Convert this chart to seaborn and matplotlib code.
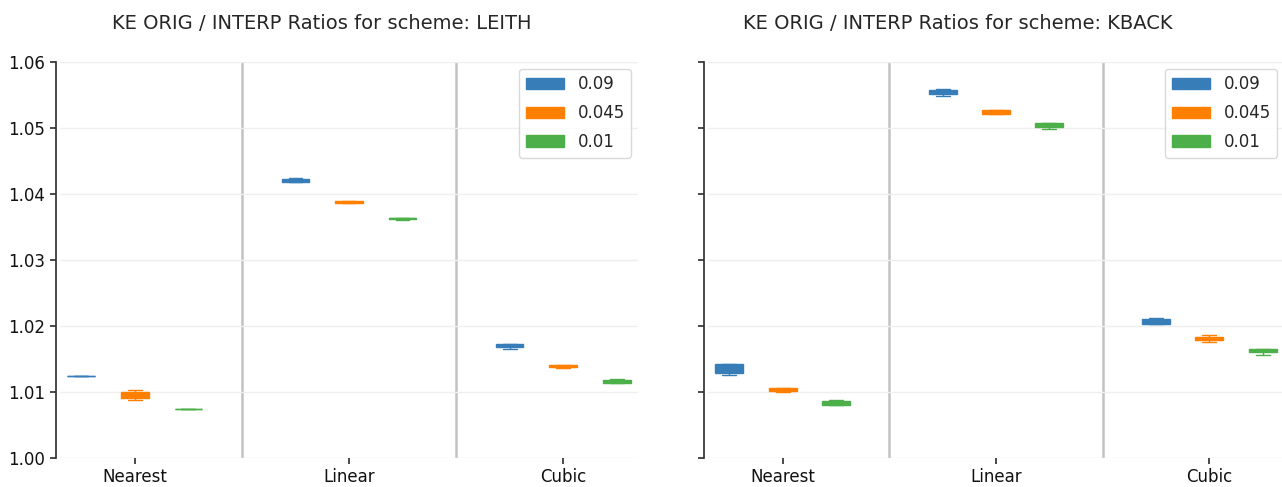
import numpy as np
import pandas as pd
import matplotlib
matplotlib.use("Agg")
import matplotlib.pyplot as plt
import seaborn as sns

# Interpolation methods and viscosity coefficients
methods = ["Nearest", "Linear", "Cubic"]
coefs = ["0.09", "0.045", "0.01"]
schemes = ["LEITH", "KBACK"]
colors = ["#377eb8", "#ff7f00", "#4daf4a"]

# KE ratio samples (min, q1, median, q3, max) per method / coefficient
leith_nearest = [
    [1.01238, 1.01239, 1.01240, 1.01241, 1.01242],
    [1.0088, 1.0091, 1.0096, 1.0100, 1.0103],
    [1.00735, 1.00738, 1.00740, 1.00742, 1.00745],
]
leith_linear = [
    [1.0418, 1.0418, 1.0420, 1.0422, 1.0424],
    [1.0387, 1.0387, 1.0388, 1.0389, 1.0389],
    [1.0361, 1.0362, 1.0363, 1.0364, 1.0364],
]
leith_cubic = [
    [1.0165, 1.0168, 1.0170, 1.0172, 1.0172],
    [1.0137, 1.0138, 1.0139, 1.0141, 1.0141],
    [1.0113, 1.0114, 1.0116, 1.0118, 1.0119],
]
kback_nearest = [
    [1.0126, 1.0129, 1.0133, 1.0142, 1.0143],
    [1.0100, 1.0102, 1.0104, 1.0106, 1.0106],
    [1.0080, 1.0081, 1.0083, 1.0087, 1.0088],
]
kback_linear = [
    [1.0548, 1.0551, 1.0554, 1.0558, 1.0559],
    [1.0521, 1.0521, 1.0524, 1.0528, 1.0528],
    [1.0498, 1.0501, 1.0503, 1.0507, 1.0507],
]
kback_cubic = [
    [1.0203, 1.0203, 1.0207, 1.0211, 1.0212],
    [1.0176, 1.0179, 1.0181, 1.0184, 1.0187],
    [1.0156, 1.0160, 1.0162, 1.0165, 1.0165],
]

scheme_data = {
    "LEITH": [leith_nearest, leith_linear, leith_cubic],
    "KBACK": [kback_nearest, kback_linear, kback_cubic],
}

rows = []
for scheme in schemes:
    for method, groups in zip(methods, scheme_data[scheme]):
        for coef, samples in zip(coefs, groups):
            for v in samples:
                rows.append({"scheme": scheme, "method": method, "coef": coef, "ratio": v})
df = pd.DataFrame(rows)

sns.set_theme(style="ticks")
plt.rcParams["font.family"] = ["DejaVu Sans"]

fig = plt.figure(figsize=(12.82, 4.87), dpi=100)
W, H = 1282, 487
ax1 = fig.add_axes([60 / W, 1 - 458 / H, 578 / W, 396 / H])
ax2 = fig.add_axes([708 / W, 1 - 458 / H, 576 / W, 396 / H], sharey=ax1)
title_x = {"LEITH": 0.452, "KBACK": 0.433}

for ax, scheme in zip([ax1, ax2], schemes):
    sub = df[df["scheme"] == scheme]
    sns.boxplot(
        data=sub, x="method", y="ratio", hue="coef",
        order=methods, hue_order=coefs, palette=colors,
        saturation=1, width=0.75, gap=0.48, linewidth=1,
        showfliers=False, ax=ax,
    )
    # Outline each box in its own fill colour
    for cont, col in zip(ax.containers, colors):
        for b in cont.boxes:
            b.set_edgecolor(col)
        for ln in list(cont.whiskers) + list(cont.caps) + list(cont.medians):
            ln.set_color(col)

    ax.set_xlim(-0.35, 2.35)
    ax.set_ylim(1.00, 1.06)
    ax.set_yticks(np.arange(1.00, 1.0601, 0.01))
    ax.yaxis.grid(True, color="#efefef", linewidth=1)
    ax.set_axisbelow(True)
    for xs in [0.5, 1.5]:
        ax.axvline(xs, color="#c2c2c2", linewidth=1.8, zorder=0.5)

    ax.set_title(f"KE ORIG / INTERP Ratios for scheme: {scheme}", fontsize=14,
                 pad=24, x=title_x[scheme])
    ax.set_xlabel("")
    ax.set_ylabel("")
    ax.tick_params(axis="both", labelsize=12, color="#333333", length=4,
                   labelcolor="#111111")
    sns.despine(ax=ax, bottom=True, offset={"left": 3})
    ax.spines["left"].set_color("#333333")
    sns.move_legend(ax, "upper right", title=None, fontsize=12,
                    frameon=True, borderaxespad=0.4, labelspacing=0.65,
                    handlelength=2.3, edgecolor="#d0d0d0")
    for h, col in zip(ax.get_legend().legend_handles, colors):
        h.set_edgecolor(col)

ax2.tick_params(axis="y", labelleft=False)

fig.savefig("out.png", dpi=100)
